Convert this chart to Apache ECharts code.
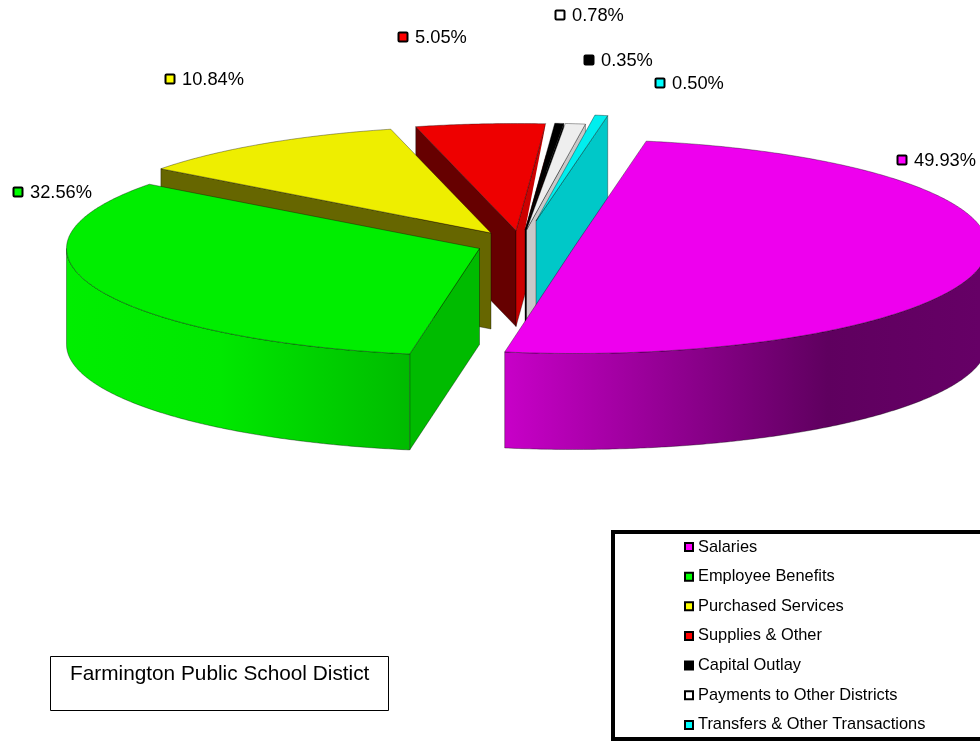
<!DOCTYPE html>
<html><head><meta charset="utf-8">
<style>html,body{margin:0;padding:0;background:#fff}#c{width:980px;height:741px}</style>
<script src="https://cdn.jsdelivr.net/npm/echarts@6/dist/echarts.min.js"></script>
</head><body><div id="c"></div>
<script>
// Data
const categories = ['Salaries','Employee Benefits','Purchased Services','Supplies & Other','Capital Outlay','Payments to Other Districts','Transfers & Other Transactions'];
const shares = [49.93,32.56,10.84,5.05,0.35,0.78,0.50];
const chartTitle = 'Farmington Public School Distict';

// Colours
const markerColors = ['#ff00ff','#00ff00','#ffff00','#ff0000','#000000','#ffffff','#00ffff'];
const topColors = ['#ee00ee','#00ee00','#eeee00','#ee0000','#000000','#eeeeee','#00eeee'];
const startWallColors = ['#660066','#00bb00','#666600','#660000','#000000','#666666','#006666'];
const endWallColors = ['#cc00cc','#00cc00','#cccc00','#cc0000','#000000','#c8c8c8','#00c8c8'];
const arcStops = [
  {x0:504,x1:980,stops:[[0,'#c800c8'],[0.68,'#5f005f'],[1,'#660066']]},
  {x0:66,x1:410,stops:[[0,'#00ee00'],[0.45,'#00e800'],[1,'#00bb00']]}
];

// Layout
const A = 413, B = 107, DEPTH = 96, START_ANGLE = 80;
const sliceOffsets = [[574.5,246.5],[479.5,248.5],[491,233],[516,230.5],[525,230],[526.5,230],[536,221]];
const labelAnchors = [[902,160],[18,192],[170,79],[403,37],[589,60],[560,15],[660,83]];
const drawOrder = [3,4,5,6,2,1,0];

const total = shares.reduce((s,v)=>s+v,0);
const rad = d => d*Math.PI/180;

function sliceAngles(i){
  let a = START_ANGLE;
  for(let k=0;k<i;k++) a -= shares[k]/total*360;
  return [a, a - shares[i]/total*360];
}
const EDGE = {stroke:'rgba(0,0,0,0.5)',lineWidth:0.7};

function makeRender(i){
  return function(params, api){
    const val = api.value(0);
    const [hi] = sliceAngles(i);
    const lo = hi - val/total*360;
    const [cx,cy] = sliceOffsets[i];
    const pt = (deg,dz=0)=>[cx+A*Math.cos(rad(deg)), cy-B*Math.sin(rad(deg))+dz];
    const arc = (h,l,dz=0)=>{const n=Math.max(2,Math.ceil((h-l)/0.5));const out=[];for(let k=0;k<=n;k++)out.push(pt(h-(h-l)*k/n,dz));return out;};
    const children = [];
    const poly = (points,fill)=>children.push({type:'polygon',shape:{points},style:Object.assign({fill},EDGE)});
    // The small slice right after Supplies leaves a clear sliver beside the red wall.
    if(i===4){
      const [px,py]=sliceOffsets[3];
      children.push({type:'polygon',shape:{points:[[cx,cy],pt(hi),[px+A*Math.cos(rad(hi)),py-B*Math.sin(rad(hi))]]},style:{fill:'#fff'}});
    }
    const radial = (deg,fill)=>poly([[cx,cy],pt(deg),pt(deg,DEPTH),[cx,cy+DEPTH]],fill);
    if(Math.cos(rad(hi))<0) radial(hi,startWallColors[i]);
    if(Math.cos(rad(lo))>0) radial(lo,endWallColors[i]);
    [[-180,0],[180,360]].forEach(([l,h])=>{
      const a1=Math.min(hi,h), a0=Math.max(lo,l);
      if(a1>a0 && arcStops[i]){
        const s=arcStops[i];
        const front=arc(a1,a0), back=arc(a1,a0,DEPTH).reverse();
        poly(front.concat(back),{type:'linear',x:s.x0,y:0,x2:s.x1,y2:0,global:true,
          colorStops:s.stops.map(([offset,color])=>({offset,color}))});
      }
    });
    poly([[cx,cy]].concat(arc(hi,lo)),topColors[i]);
    const [mx,my] = labelAnchors[i];
    children.push({type:'rect',shape:{x:mx-4.5,y:my-4.5,width:9,height:9,r:1},style:{fill:markerColors[i],stroke:'#000',lineWidth:2}});
    children.push({type:'text',style:{x:mx+12,y:my+1,text:val.toFixed(2)+'%',fill:'#000',font:'18.3px "Liberation Sans"',textAlign:'left',textVerticalAlign:'middle'}});
    return {type:'group',children};
  };
}

const series = drawOrder.map((i,order)=>({
  type:'custom',name:categories[i],coordinateSystem:'none',z:2+order,
  data:[[shares[i]]],itemStyle:{color:markerColors[i]},silent:true,clip:false,
  renderItem:makeRender(i)
}));

const chart = echarts.init(document.getElementById('c'),null,{renderer:'canvas'});
chart.setOption({
  animation:false,backgroundColor:'#fff',
  title:{text:chartTitle,left:50,top:656,padding:[8,19,26,20],borderColor:'#000',borderWidth:1,
    textStyle:{fontFamily:'Liberation Sans',fontSize:20.8,fontWeight:'normal',color:'#000'}},
  legend:{orient:'vertical',left:684,top:538,itemWidth:8,itemHeight:8,itemGap:11.65,icon:'rect',
    data:categories.map((name,i)=>({name,itemStyle:{color:markerColors[i],borderColor:'#000',borderWidth:2}})),
    selectedMode:false,padding:0,
    textStyle:{fontFamily:'Liberation Sans',fontSize:16.4,color:'#000',lineHeight:18}},
  series,
  graphic:[{type:'rect',z:0,silent:true,shape:{x:613,y:532,width:380,height:207},style:{fill:'#fff',stroke:'#000',lineWidth:4}}]
});
</script></body></html>
